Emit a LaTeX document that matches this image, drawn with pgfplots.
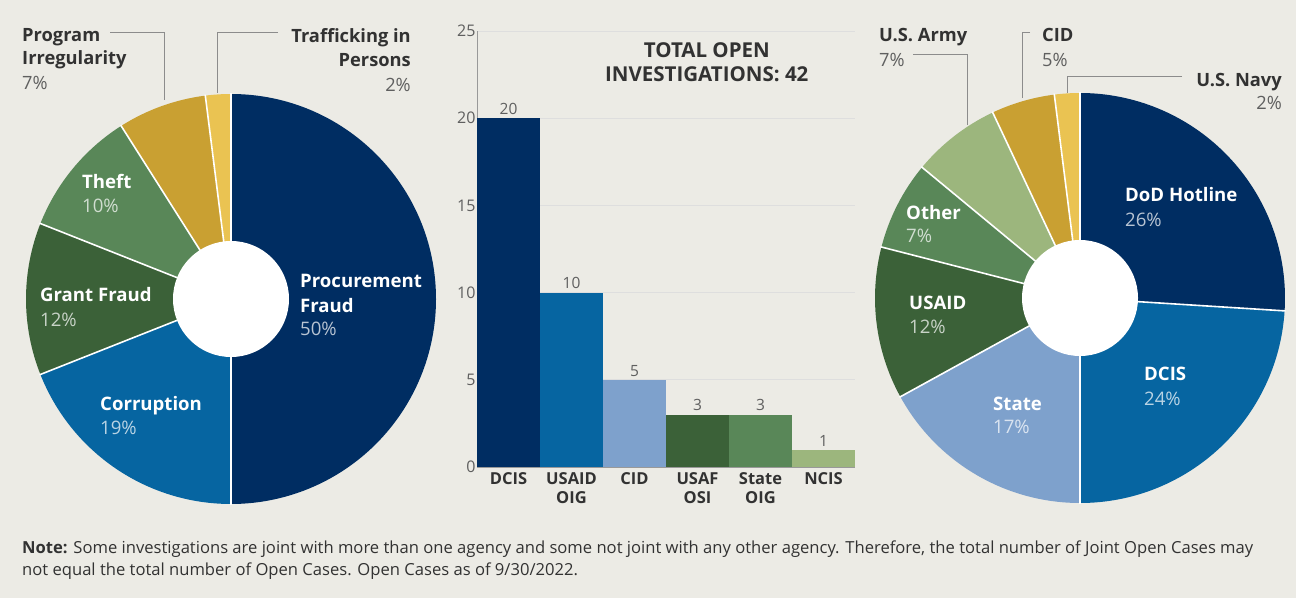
\documentclass[border=0pt]{standalone}
\usepackage{fontspec}
\setmainfont{Open Sans}
\usepackage{pgfplots}
\usepackage{pgfplotstable}
\pgfplotsset{compat=1.18}

\definecolor{bgc}{RGB}{236,235,229}
\definecolor{pNavy}{RGB}{0,45,98}
\definecolor{pBlue}{RGB}{6,101,161}
\definecolor{pLBlue}{RGB}{126,161,204}
\definecolor{pDGreen}{RGB}{59,97,56}
\definecolor{pMGreen}{RGB}{89,135,88}
\definecolor{pLGreen}{RGB}{156,182,125}
\definecolor{pGold}{RGB}{201,160,50}
\definecolor{pYellow}{RGB}{234,195,82}
\definecolor{txtdark}{RGB}{50,50,50}
\definecolor{txtgray}{RGB}{95,95,95}
\definecolor{leader}{RGB}{140,140,140}

% left pie: share of open investigations by type (percent)
\pgfplotstableread{
pct
50
19
12
10
7
2
}\lefttbl
\def\leftcols{{"pNavy","pBlue","pDGreen","pMGreen","pGold","pYellow"}}

% right pie: share by source (percent)
\pgfplotstableread{
pct
26
24
17
12
7
7
5
2
}\righttbl
\def\rightcols{{"pNavy","pBlue","pLBlue","pDGreen","pMGreen","pLGreen","pGold","pYellow"}}

% bar chart: open investigations by agency
\pgfplotstableread{
x y
0 20
1 10
2 5
3 3
4 3
5 1
}\bartbl

\newcommand\drawpie[4]{%
  \pgfplotstablegetrowsof{#1}\pgfmathtruncatemacro\N{\pgfplotsretval-1}%
  \def\acc{0}%
  \pgfplotsforeachungrouped \i in {0,...,\N}{%
    \pgfplotstablegetelem{\i}{pct}\of{#1}\let\p\pgfplotsretval
    \pgfmathsetmacro\sa{90-3.6*\acc}%
    \pgfmathsetmacro\ea{90-3.6*(\acc+\p)}%
    \pgfmathsetmacro\sx{#3+205*cos(\sa)}%
    \pgfmathsetmacro\sy{#4+205*sin(\sa)}%
    \pgfmathsetmacro\col{#2[\i]}%
    \edef\temp{\noexpand\fill[\col] (axis cs:#3,#4) -- (axis cs:\sx,\sy) arc[start angle=\sa, end angle=\ea, radius=205pt] -- cycle;}%
    \temp
    \pgfmathsetmacro\acc{\acc+\p}%
  }%
  \def\acc{0}%
  \pgfplotsforeachungrouped \i in {0,...,\N}{%
    \pgfplotstablegetelem{\i}{pct}\of{#1}\let\p\pgfplotsretval
    \pgfmathsetmacro\sa{90-3.6*\acc}%
    \pgfmathsetmacro\sx{#3+206*cos(\sa)}%
    \pgfmathsetmacro\sy{#4+206*sin(\sa)}%
    \edef\temp{\noexpand\draw[white, line width=1.6pt] (axis cs:#3,#4) -- (axis cs:\sx,\sy);}%
    \temp
    \pgfmathsetmacro\acc{\acc+\p}%
  }%
  \fill[white] (axis cs:#3,#4) circle[radius=58pt];
}

\tikzset{
  lab/.style={anchor=base west, font=\fontsize{18.6}{22}\selectfont\bfseries, text=white, inner sep=0pt},
  pct/.style={anchor=base west, font=\fontsize{18.6}{22}\selectfont, text=white, text opacity=0.72, inner sep=0pt},
  olab/.style={anchor=base west, font=\fontsize{18.3}{22}\selectfont\bfseries, text=txtdark, inner sep=0pt},
  opct/.style={anchor=base west, font=\fontsize{18.3}{22}\selectfont, text=txtgray, inner sep=0pt},
  ldr/.style={draw=leader, line width=1pt},
}

\begin{document}
\begin{tikzpicture}
\begin{axis}[x=1pt, y=1pt, xmin=0, xmax=1296, ymin=0, ymax=598, hide axis, clip=false,
  at={(0pt,0pt)}, anchor=south west, scale only axis]
  \fill[bgc] (axis cs:0,0) rectangle (axis cs:1296,598);
  % ---------- left pie ----------
  \drawpie{\lefttbl}{\leftcols}{231}{299}
  \node[lab] at (axis cs:300,310) {Procurement};
  \node[lab] at (axis cs:300,286) {Fraud};
  \node[pct] at (axis cs:300,262) {50\%};
  \node[lab] at (axis cs:100,188) {Corruption};
  \node[pct] at (axis cs:100,164) {19\%};
  \node[lab] at (axis cs:40,297) {Grant Fraud};
  \node[pct] at (axis cs:40,272) {12\%};
  \node[lab] at (axis cs:82,409) {Theft};
  \node[pct] at (axis cs:82,385) {10\%};
  \node[olab] at (axis cs:22,556) {Program};
  \node[olab] at (axis cs:22,533) {Irregularity};
  \node[opct] at (axis cs:22,508) {7\%};
  \node[olab, anchor=base east] at (axis cs:411,555) {Trafficking in};
  \node[olab, anchor=base east] at (axis cs:411,531) {Persons};
  \node[opct, anchor=base east] at (axis cs:411,506) {2\%};
  \draw[ldr] (axis cs:110,565) -- (axis cs:164,565) -- (axis cs:164,498);
  \draw[ldr] (axis cs:278,565) -- (axis cs:217,565) -- (axis cs:217,505);
  % ---------- right pie ----------
  \drawpie{\righttbl}{\rightcols}{1080}{300}
  \node[lab] at (axis cs:1125,396) {DoD Hotline};
  \node[pct] at (axis cs:1125,371) {26\%};
  \node[lab] at (axis cs:1144,218) {DCIS};
  \node[pct] at (axis cs:1144,193) {24\%};
  \node[lab] at (axis cs:993,188) {State};
  \node[pct] at (axis cs:993,165) {17\%};
  \node[lab] at (axis cs:909,288) {USAID};
  \node[pct] at (axis cs:909,265) {12\%};
  \node[lab] at (axis cs:906,378) {Other};
  \node[pct] at (axis cs:906,355) {7\%};
  \node[olab] at (axis cs:879,556) {U.S. Army};
  \node[opct] at (axis cs:879,531) {7\%};
  \node[olab] at (axis cs:1042,556) {CID};
  \node[opct] at (axis cs:1042,531) {5\%};
  \node[olab, anchor=base east] at (axis cs:1282,511) {U.S. Navy};
  \node[opct, anchor=base east] at (axis cs:1282,488) {2\%};
  \draw[ldr] (axis cs:913,543) -- (axis cs:967,543) -- (axis cs:967,473);
  \draw[ldr] (axis cs:1030,565) -- (axis cs:1022,565) -- (axis cs:1022,500);
  \draw[ldr] (axis cs:1182,521) -- (axis cs:1067,521) -- (axis cs:1067,505);
  % ---------- note ----------
  \node[anchor=base west, inner sep=0pt, font=\fontsize{16.6}{19}\selectfont, text=txtdark] at (axis cs:22,45)
    {\textbf{Note:} Some investigations are joint with more than one agency and some not joint with any other agency. Therefore, the total number of Joint Open Cases may};
  \node[anchor=base west, inner sep=0pt, font=\fontsize{16.6}{19}\selectfont, text=txtdark] at (axis cs:22,23)
    {not equal the total number of Open Cases. Open Cases as of 9/30/2022.};
\end{axis}

\begin{axis}[at={(477pt,131pt)}, anchor=south west, scale only axis, width=378pt, height=436pt,
  xmin=-0.5, xmax=5.5, ymin=0, ymax=25, ybar, bar width=63pt, bar shift=0pt,
  axis x line*=bottom, axis y line*=left,
  axis line style={-, draw=black!40, line width=0.9pt},
  ytick={0,5,10,15,20,25}, major tick length=0pt,
  ymajorgrids, grid style={draw=black!13, line width=0.8pt},
  xtick={0,...,5},
  xticklabels={DCIS, USAID\\OIG, CID, USAF\\OSI, State\\OIG, NCIS},
  xticklabel style={align=center, font=\fontsize{16.5}{19}\selectfont\bfseries, text=txtdark, yshift=-2pt},
  yticklabel style={font=\fontsize{16}{18}\selectfont, text=txtgray, xshift=2pt},
  /pgf/number format/assume math mode=true,
  nodes near coords,
  every node near coord/.append style={font=\fontsize{15.5}{17}\selectfont, text=txtgray},
  clip=false]
  \addplot[fill=pNavy, draw=none] table[x=x, y=y, restrict expr to domain={\coordindex}{0:0}] {\bartbl};
  \addplot[fill=pBlue, draw=none] table[x=x, y=y, restrict expr to domain={\coordindex}{1:1}] {\bartbl};
  \addplot[fill=pLBlue, draw=none] table[x=x, y=y, restrict expr to domain={\coordindex}{2:2}] {\bartbl};
  \addplot[fill=pDGreen, draw=none] table[x=x, y=y, restrict expr to domain={\coordindex}{3:3}] {\bartbl};
  \addplot[fill=pMGreen, draw=none] table[x=x, y=y, restrict expr to domain={\coordindex}{4:4}] {\bartbl};
  \addplot[fill=pLGreen, draw=none] table[x=x, y=y, restrict expr to domain={\coordindex}{5:5}] {\bartbl};
  \node[align=center, font=\fontsize{20.5}{23.5}\selectfont\bfseries, text=txtdark] at (rel axis cs:0.608,0.928)
    {TOTAL OPEN\\INVESTIGATIONS: 42};
\end{axis}
\end{tikzpicture}
\end{document}
